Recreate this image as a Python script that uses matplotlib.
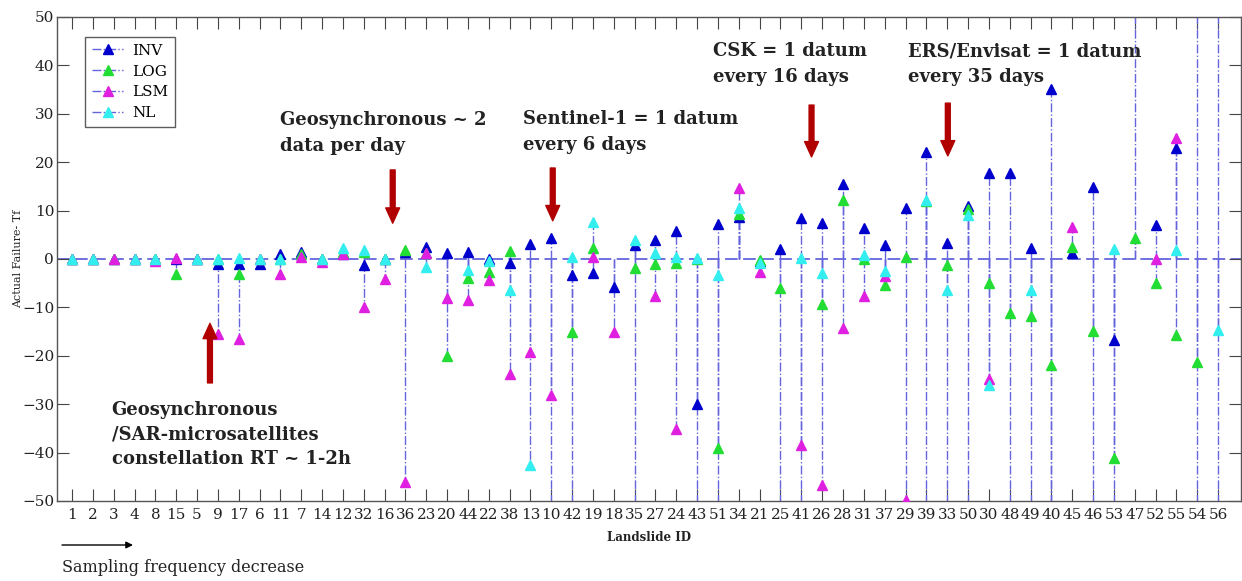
import numpy as np
import matplotlib
matplotlib.use('Agg')
import matplotlib.pyplot as plt
from matplotlib.legend_handler import HandlerLine2D
from matplotlib.lines import Line2D

plt.rcParams['font.family'] = ['DejaVu Serif']

nan = np.nan

# landslide IDs, ordered by decreasing sampling frequency
ids = [1, 2, 3, 4, 8, 15, 5, 9, 17, 6, 11, 7, 14, 12, 32, 16, 36, 23, 20, 44,
       22, 38, 13, 10, 42, 19, 18, 35, 27, 24, 43, 51, 34, 21, 25, 41, 26, 28, 31, 37,
       29, 39, 33, 50, 30, 48, 49, 40, 45, 46, 53, 47, 52, 55, 54, 56]

# actual - predicted failure time for each method (values past +-50 go off the chart)
inv = [0, 0, 0, 0, 0, 0, 0, -1.0, -1.0, -1.0, 1.0, 1.5, 0, 1.0, -1.2, 0, 1.5, 2.5, 1.2, 1.5,
       0, -0.8, 3.2, 4.3, -3.3, -2.8, -5.7, 2.9, 3.9, 5.8, -30.0, 7.2, 8.7, -0.5, 2.0, 8.5, 7.4, 15.5, 6.5, 2.9,
       10.5, 22.2, 3.4, 11.0, 17.8, 17.8, 2.3, 35.1, 1.3, 14.8, -16.7, 60, 7.0, 22.9, 60, 60]
log = [0, 0, 0, 0, 0, -3.0, 0, 0, -3.0, 0, 0, 1.0, 0, 1.5, 1.5, 0, 1.9, 1.3, -20.0, -3.9,
       -2.6, 1.7, nan, nan, -15.0, 2.3, nan, -1.9, -1.0, -0.8, 0.0, -39.1, 9.3, -0.2, -5.9, -60, -9.2, 12.2, 0.1, -5.4,
       0.5, 12.0, -1.2, 10.3, -4.9, -11.2, -11.8, -21.9, 2.5, -14.8, -41.2, 4.3, -5.0, -15.7, -21.2, nan]
lsm = [0, 0, 0, 0, -0.5, 0.3, 0, -15.5, -16.6, 0, -3.0, 0.5, -0.6, 1.0, -9.9, -4.2, -46.0, 1.3, -8.1, -8.5,
       -4.3, -23.8, -19.3, -28.1, -60, 0.5, -15.0, -60, -7.6, -35.2, -60, -60, 14.6, -2.6, -60, -38.4, -46.7, -14.3, -7.6, -3.5,
       -49.7, -60, -60, -60, -24.7, -60, -60, -60, 6.7, -60, -60, nan, 0.1, 24.9, -60, -60]
nl = [0, 0, nan, 0, 0, nan, 0, 0, 0.3, 0, 0, nan, 0, 2.2, 1.8, 0, nan, -1.6, nan, -2.3,
      -0.5, -6.4, -42.6, -60, 0.5, 7.6, nan, 3.9, 1.2, 0.5, 0.3, -3.3, 10.5, -0.9, nan, 0.3, -2.8, nan, 0.8, -2.4,
      nan, 12.2, -6.4, 9.1, -26.0, nan, -6.4, -60, nan, nan, 2.1, nan, nan, 1.9, nan, -14.7]

names = ['INV', 'LOG', 'LSM', 'NL']
colors = ['#0000cd', '#22dd33', '#e020e0', '#33eeee']
stem_color = '#6464dc'


class EndMarkerHandler(HandlerLine2D):
    # put the legend marker at the right end of the line, like MATLAB
    def get_xdata(self, legend, xdescent, ydescent, width, height, fontsize):
        xdata, _ = super().get_xdata(legend, xdescent, ydescent, width, height, fontsize)
        return xdata, [xdata[-1] - 0.12 * width]


fig = plt.figure(figsize=(12.42, 5.81), dpi=100)
ax = fig.add_axes([57 / 1242, 80 / 581, 1184 / 1242, 484 / 581])

x = np.arange(1, len(ids) + 1)
ax.axhline(0, color=stem_color, ls='--', lw=1.3, dashes=(7, 3), zorder=1)

handles = []
for name, vals, c in zip(names, [inv, log, lsm, nl], colors):
    markerline, stemlines, baseline = ax.stem(x, np.array(vals, dtype=float),
                                              linefmt='-.', markerfmt='^', basefmt=' ')
    stemlines.set_color(stem_color)
    stemlines.set_linewidth(1.0)
    stemlines.set_zorder(2)
    markerline.set_color(c)
    markerline.set_markersize(6.5)
    markerline.set_zorder(3)
    baseline.set_visible(False)
    handles.append(Line2D([], [], color=stem_color, ls='-.', lw=1.0, marker='^',
                          markerfacecolor=c, markeredgecolor=c, markersize=6.5, label=name))

leg = ax.legend(handles=handles, loc='upper left', bbox_to_anchor=(0.024, 0.959),
                handler_map={Line2D: EndMarkerHandler()}, fontsize=11, frameon=True,
                fancybox=False, edgecolor='#333333', handlelength=2.0, handletextpad=0.6,
                borderpad=0.45, labelspacing=0.45, borderaxespad=0)
leg.get_frame().set_linewidth(1.0)

ax.set_xlim(0.28, 57.1)
ax.set_ylim(-50, 50)
ax.set_xticks(x)
ax.set_xticklabels([str(i) for i in ids])
ax.set_yticks(range(-50, 51, 10))
ax.tick_params(direction='in', length=8.5, top=True, right=True, labelsize=11,
               color='#444444', labelcolor='#222222')
ax.tick_params(axis='y', pad=2)
ax.tick_params(axis='x', pad=5)
for s in ax.spines.values():
    s.set_color('#555555')
    s.set_linewidth(1.0)

ax.set_xlabel('Landslide ID', fontsize=8.5, fontweight='bold', color='#222222')
ax.xaxis.set_label_coords(0.5, -0.062)
ax.set_ylabel('Actual Failure- Tf', fontsize=8, color='#222222')
ax.yaxis.set_label_coords(-0.029, 0.5)

# satellite annotations
notes = [
    ('Geosynchronous ~ 2\ndata per day', 10.98, 26.1, 1.55),
    ('Sentinel-1 = 1 datum\nevery 6 days', 22.63, 26.2, 1.55),
    ('CSK = 1 datum\nevery 16 days', 31.76, 40.3, 1.55),
    ('ERS/Envisat = 1 datum\nevery 35 days', 41.11, 40.3, 1.55),
    ('Geosynchronous\n/SAR-microsatellites\nconstellation RT ~ 1-2h', 2.90, -36.3, 1.45),
]
for txt, tx, ty, ls in notes:
    ax.text(tx, ty, txt, fontsize=13, fontweight='bold', color='#222222',
            ha='left', va='center', linespacing=ls)

arrows = [(16.39, 18.4, 7.4), (24.07, 18.8, 7.9), (36.49, 31.8, 21.1),
          (43.03, 32.2, 21.3), (7.62, -25.6, -13.3)]
for axx, y0, y1 in arrows:
    ax.annotate('', xy=(axx, y1), xytext=(axx, y0),
                arrowprops=dict(arrowstyle='simple,head_length=1.1,head_width=1.0,tail_width=0.35',
                                color='#b00000', mutation_scale=10, shrinkA=0, shrinkB=0))

fig.text(62 / 1242, 1 - 568 / 581, 'Sampling frequency decrease', fontsize=11.5,
         color='#222222', ha='left', va='center')
ax.annotate('', xy=(133 / 1242, 1 - 545 / 581), xytext=(62 / 1242, 1 - 545 / 581),
            xycoords='figure fraction', textcoords='figure fraction',
            arrowprops=dict(arrowstyle='-|>', color='black', lw=1.0, shrinkA=0, shrinkB=0))

fig.savefig('out.png', dpi=100)
